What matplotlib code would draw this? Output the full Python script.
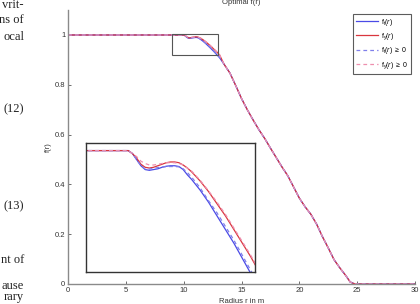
import matplotlib
matplotlib.use('Agg')
import matplotlib.pyplot as plt
from matplotlib.patches import Rectangle

# radius samples (m)
r_head = [0.0, 9.0, 10.0, 10.1, 10.2, 10.3, 10.4, 10.5, 10.6, 10.7, 10.8, 10.9,
          11.0, 11.1, 11.2, 11.3, 11.4, 11.5, 11.7, 11.9, 12.1, 12.3, 12.5,
          12.7, 12.9, 13.1]
ft_head = [1.0, 1.0, 1.0, 0.998, 0.994, 0.990, 0.9875, 0.987, 0.9875, 0.988,
           0.989, 0.9897, 0.990, 0.990, 0.9895, 0.9875, 0.984, 0.981, 0.974,
           0.966, 0.957, 0.948, 0.939, 0.929, 0.919, 0.909]
fy_head = [1.0, 1.0, 1.0, 0.998, 0.995, 0.991, 0.989, 0.9885, 0.989, 0.990,
           0.991, 0.992, 0.9925, 0.9925, 0.992, 0.9905, 0.9885, 0.986, 0.980,
           0.973, 0.965, 0.957, 0.948, 0.939, 0.930, 0.920]
ft_pos_head = [1.0, 1.0, 1.0, 0.998, 0.994, 0.990, 0.9878, 0.9878, 0.9883,
               0.9888, 0.9892, 0.9894, 0.9895, 0.9895, 0.9893, 0.988, 0.9855,
               0.9825, 0.9755, 0.967, 0.959, 0.950, 0.941, 0.931, 0.921, 0.911]
fy_pos_head = [1.0, 1.0, 1.0, 0.998, 0.996, 0.993, 0.9915, 0.9905, 0.9905,
               0.991, 0.9915, 0.992, 0.992, 0.992, 0.9915, 0.9905, 0.9885,
               0.9865, 0.9805, 0.9735, 0.966, 0.958, 0.949, 0.940, 0.931, 0.921]

r_tail = [13.5, 14.0, 14.5, 15.0, 15.5, 16.0, 16.5, 17.0, 17.5, 18.0, 18.5,
          19.0, 19.5, 20.0, 20.5, 21.0, 21.5, 22.0, 22.5, 23.0, 23.5, 24.0,
          24.4, 24.7, 25.0, 30.0]
f_tail = [0.882, 0.847, 0.797, 0.745, 0.700, 0.659, 0.620, 0.585, 0.546, 0.508,
          0.470, 0.435, 0.390, 0.345, 0.310, 0.280, 0.240, 0.190, 0.145, 0.098,
          0.065, 0.035, 0.008, 0.002, 0.0, 0.0]

r = r_head + r_tail
series = [
    (ft_head + f_tail, '#4a4ae6', '-', r'f$_\mathregular{t}$($r$)'),
    (fy_head + f_tail, '#d9363e', '-', r'f$_\mathregular{y}$($r$)'),
    (ft_pos_head + f_tail, '#7f7fea', '--', r'f$_\mathregular{t}$($r$) $\geq$ 0'),
    (fy_pos_head + f_tail, '#ee8fae', '--', r'f$_\mathregular{y}$($r$) $\geq$ 0'),
]

plt.rcParams['font.family'] = ['Liberation Sans', 'DejaVu Sans']
plt.rcParams['mathtext.fontset'] = 'custom'
plt.rcParams['mathtext.it'] = 'Liberation Sans:italic'
plt.rcParams['mathtext.rm'] = 'Liberation Sans'

fig = plt.figure(figsize=(4.2, 3.04), dpi=100)
ax = fig.add_axes([0.162, 0.0658, 0.826, 0.901])
for f, c, ls, lab in series:
    ax.plot(r, f, color=c, linestyle=ls, linewidth=0.9, label=lab,
            dashes=(3, 2.5) if ls == '--' else (None, None))

ax.set_xlim(0, 30)
ax.set_ylim(0, 1.1)
ax.set_xticks([0, 5, 10, 15, 20, 25, 30])
ax.set_yticks([0, 0.2, 0.4, 0.6, 0.8, 1])
ax.set_yticklabels(['0', '0.2', '0.4', '0.6', '0.8', '1'])
for s in ['top', 'right']:
    ax.spines[s].set_visible(False)
for s in ['left', 'bottom']:
    ax.spines[s].set_color('#8a8a8a')
    ax.spines[s].set_linewidth(1.0)
ax.tick_params(direction='in', length=2.5, width=0.6, color='#555555',
               labelsize=5.5, labelcolor='#333333', pad=2)
ax.set_xlabel('Radius r in m', fontsize=5.5, color='#333333', labelpad=3)
ax.set_ylabel('f(r)', fontsize=5.5, color='#333333', labelpad=2)
ax.add_patch(Rectangle((9, 0.92), 4, 0.085, fill=False, edgecolor='#555555',
                       linewidth=0.8, zorder=5))

leg = ax.legend(loc='upper right', bbox_to_anchor=(0.9995, 1.0), fontsize=5,
                handlelength=3.2, handletextpad=0.4, borderpad=0.45,
                labelspacing=0.5, frameon=True, fancybox=False)
leg.get_frame().set_edgecolor('#333333')
leg.get_frame().set_linewidth(0.8)

fig.text(0.575, 1 - 2.5 / 304, 'Optimal f(r)', fontsize=5.5, color='#333333',
         ha='center', va='center')

# zoomed inset
ins = fig.add_axes([86 / 420, 1 - 272 / 304, 169 / 420, 129 / 304])
for f, c, ls, lab in series:
    ins.plot(r, f, color=c, linestyle=ls, linewidth=0.9,
             dashes=(3, 2.5) if ls == '--' else (None, None))
ins.set_xlim(9, 13)
ins.set_ylim(0.92, 1.005)
ins.set_xticks([])
ins.set_yticks([])
for s in ins.spines.values():
    s.set_color('#333333')
    s.set_linewidth(1.0)

# clipped text of the neighbouring paper column
side_text = [('vrit-', 5), ('ns of', 20), ('ocal', 37), ('(12)', 109),
             ('(13)', 206), ('nt of', 260), ('ause', 286), ('rary', 297)]
for t, yp in side_text:
    fig.text(24 / 420, 1 - yp / 304, t, fontsize=9, ha='right', va='center',
             family='Liberation Serif', color='#222222')

fig.savefig('out.png', dpi=100)
